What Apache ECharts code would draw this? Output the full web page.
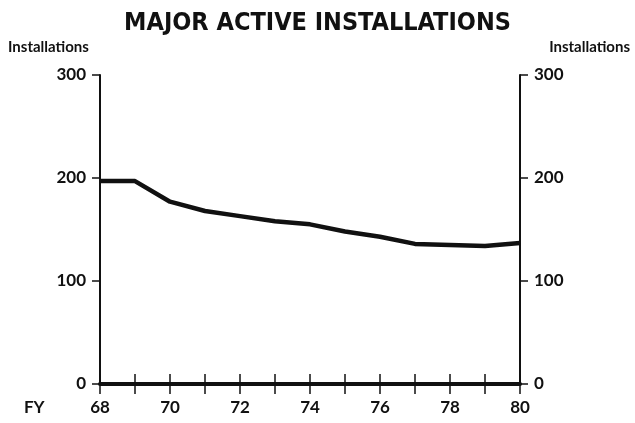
<!DOCTYPE html>
<html>
<head>
<meta charset="utf-8">
<script src="https://cdn.jsdelivr.net/npm/echarts@6/dist/echarts.min.js"></script>
<style>
  html, body { margin: 0; padding: 0; background: #fff; }
  #chart { width: 635px; height: 423px; }
</style>
</head>
<body>
<div id="chart"></div>
<script>
  // fiscal years and active installations
  var years = [68, 69, 70, 71, 72, 73, 74, 75, 76, 77, 78, 79, 80];
  var installations = [197, 197, 177, 168, 163, 158, 155, 148, 143, 136, 135, 134, 137];
  var yTicks = [0, 100, 200, 300];

  var font = 'Lato';
  var chart = echarts.init(document.getElementById('chart'));

  var points = [];
  for (var i = 0; i < years.length; i++) {
    points.push([years[i], installations[i]]);
  }

  chart.setOption({
    animation: false,
    title: {
      text: 'MAJOR ACTIVE INSTALLATIONS',
      left: 'center',
      top: 6,
      textStyle: { fontFamily: 'DejaVu Sans Condensed', fontWeight: 'bold', fontSize: 25, color: '#111' }
    },
    grid: { left: 100, right: 115, top: 75, bottom: 39 },
    xAxis: [
      {
        type: 'value', min: 68, max: 80, interval: 1, position: 'bottom',
        axisLine: { lineStyle: { color: '#111', width: 4 } },
        axisTick: { inside: true, length: 10, lineStyle: { color: '#111', width: 1.5 } },
        splitLine: { show: false },
        axisLabel: {
          margin: 15, color: '#111', fontFamily: font, fontWeight: 'bold', fontSize: 17,
          formatter: function (v) { return v % 2 === 0 ? String(v) : ''; }
        }
      },
      {
        type: 'value', min: 68, max: 80, interval: 1, position: 'top',
        axisLine: { lineStyle: { color: '#111', width: 2 } },
        axisTick: { inside: true, length: 10, lineStyle: { color: '#111', width: 1.5 } },
        splitLine: { show: false },
        axisLabel: { show: false }
      }
    ],
    yAxis: [
      {
        type: 'value', min: 0, max: 300, interval: 100, position: 'left',
        axisLine: { show: true, lineStyle: { color: '#111', width: 2 } },
        axisTick: { show: true, length: 8, lineStyle: { color: '#111', width: 1.5 } },
        splitLine: { show: false },
        axisLabel: { margin: 14, color: '#111', fontFamily: font, fontWeight: 'bold', fontSize: 17 }
      },
      {
        type: 'value', min: 0, max: 300, interval: 100, position: 'right',
        axisLine: { show: true, lineStyle: { color: '#111', width: 2 } },
        axisTick: { show: true, length: 8, lineStyle: { color: '#111', width: 1.5 } },
        splitLine: { show: false },
        axisLabel: { margin: 14, color: '#111', fontFamily: font, fontWeight: 'bold', fontSize: 17 }
      }
    ],
    graphic: [
      { type: 'text', left: 8, top: 40, style: { text: 'Installations', font: 'bold 15px ' + font, fill: '#111' } },
      { type: 'text', right: 5, top: 40, style: { text: 'Installations', font: 'bold 15px ' + font, fill: '#111' } },
      { type: 'text', left: 24, top: 399, style: { text: 'FY', font: 'bold 17px ' + font, fill: '#111' } }
    ],
    series: [
      {
        type: 'line',
        data: points,
        xAxisIndex: 0,
        yAxisIndex: 0,
        symbol: 'none',
        lineStyle: { color: '#111', width: 4.5 }
      }
    ]
  });
</script>
</body>
</html>
